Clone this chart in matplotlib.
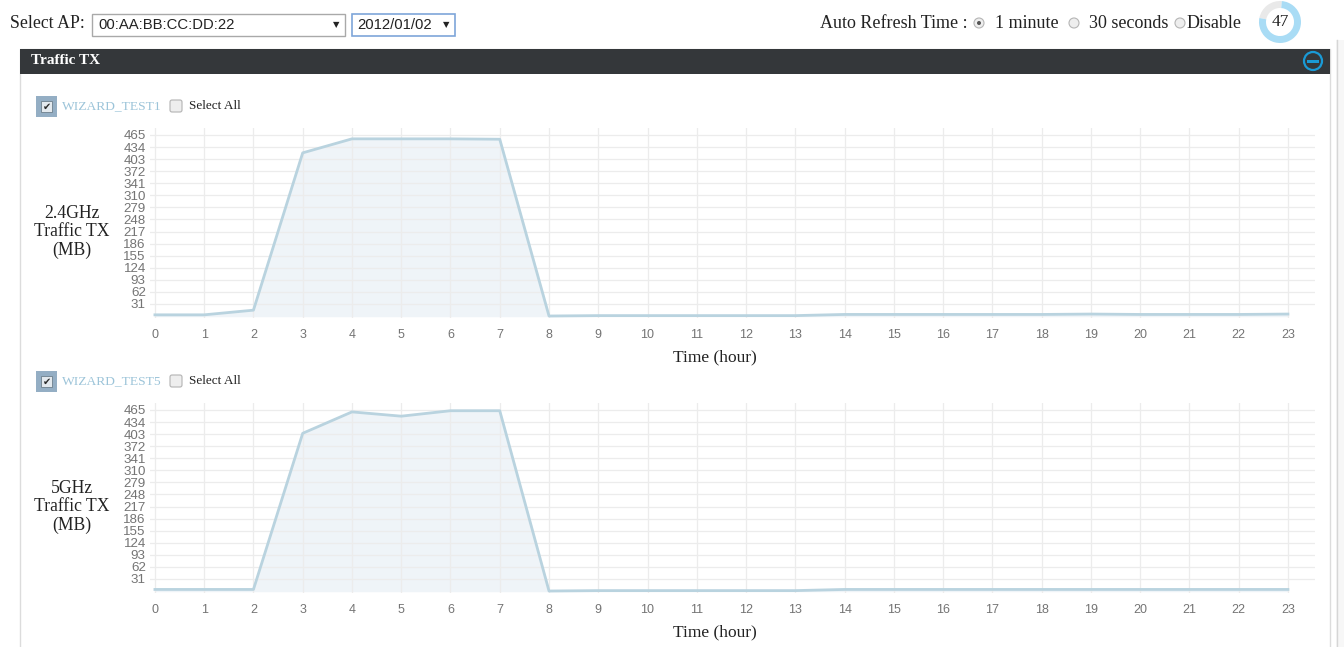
import numpy as np
import matplotlib
matplotlib.use("Agg")
import matplotlib.pyplot as plt
from matplotlib import font_manager
from matplotlib.patches import Rectangle, Circle, Wedge, FancyBboxPatch

# data (MB per hour)
hours = list(range(24))
tx_24g = [3, 3, 15, 419, 455, 455, 455, 454, 0, 1, 1, 1, 1, 1, 4, 4, 4, 4, 4, 5, 4, 4, 4, 5]
tx_5g = [4, 4, 4, 405, 460, 449, 463, 463, 0, 1, 1, 1, 1, 1, 4, 4, 4, 4, 4, 4, 4, 4, 4, 4]
ytick_vals = [31, 62, 93, 124, 155, 186, 217, 248, 279, 310, 341, 372, 403, 434, 465]
ylabels = ["2.4GHz\nTraffic TX\n(MB)", "5GHz\nTraffic TX\n(MB)"]
ssids = ["WIZARD_TEST1", "WIZARD_TEST5"]

W, H = 1344, 647
SERIF = "Liberation Serif"
SANS = "Liberation Sans"
names = {f.name for f in font_manager.fontManager.ttflist}
NARROW = "Liberation Sans Narrow" if "Liberation Sans Narrow" in names else SANS

LINE = "#b9d3df"
FILL = "#eff4f8"
GRID = "#ececec"
TICK = "#747474"
INK = "#222222"

fig = plt.figure(figsize=(W / 100, H / 100), dpi=100)
fig.patch.set_facecolor("white")


def px_axes(left, top, right, bottom):
    return fig.add_axes([left / W, 1 - bottom / H, (right - left) / W, (bottom - top) / H])


def chart(top, zero_y, values):
    # 0 MB sits at zero_y px, 31 MB = 12.07 px
    k = 12.07 / 31
    bottom = zero_y + 2
    ax = px_axes(150, top, 1315, bottom)
    ax.set_xlim(-0.1, 23.55)
    ax.set_ylim(-(bottom - zero_y) / k, (zero_y - top) / k)
    ax.fill_between(hours, values, 0, color=FILL, zorder=1)
    ax.plot(hours, values, color=LINE, lw=2, zorder=2)
    ax.set_xticks(hours)
    ax.set_yticks(ytick_vals)
    ax.grid(True, color=GRID, lw=0.9, zorder=0)
    for s in ax.spines.values():
        s.set_visible(False)
    ax.tick_params(length=0, colors=TICK)
    ax.tick_params(axis="x", pad=8, labelsize=9, labelfontfamily=SANS)
    ax.tick_params(axis="y", pad=3, labelsize=9.6, labelfontfamily=NARROW)
    ax.set_xlabel("Time (hour)", family=SERIF, fontsize=12.5, color=INK, va="center")
    # label is centred on the page column, not on the plot box
    ax.xaxis.set_label_coords((715 - 150) / 1165, -(39 / (bottom - top)))
    ax.set_facecolor("none")
    return ax


ax1 = chart(128, 316, tx_24g)
ax2 = chart(403, 591, tx_5g)

# page furniture drawn in pixel space
ui = fig.add_axes([0, 0, 1, 1], zorder=-1)
ui.set_xlim(0, W)
ui.set_ylim(H, 0)
ui.axis("off")

ui.text(10, 24, "Select AP:", family=SERIF, fontsize=12.8, va="center", color=INK)
ui.add_patch(Rectangle((92, 14), 253, 22, fc="white", ec="#a9a9a9", lw=1))
ui.text(98, 25, "00:AA:BB:CC:DD:22", family=SANS, fontsize=10.7, va="center", color=INK)
ui.text(336, 25, "▼", family="DejaVu Sans", fontsize=6, va="center", ha="center", color=INK)
ui.add_patch(Rectangle((352, 14), 103, 22, fc="white", ec="#7ea6d9", lw=1.2))
ui.text(357, 25, "2012/01/02", family=SANS, fontsize=10.7, va="center", color=INK)
ui.text(446, 25, "▼", family="DejaVu Sans", fontsize=6, va="center", ha="center", color=INK)

ui.text(820, 24, "Auto Refresh Time :", family=SERIF, fontsize=13, va="center", color=INK)
for x, tx, lab, on in [(979, 995, "1 minute", True), (1074, 1089, "30 seconds", False),
                       (1180, 1187, "Disable", False)]:
    ui.add_patch(Circle((x, 23), 5, fc="#eeeeee", ec="#b5b5b5", lw=0.8))
    if on:
        ui.add_patch(Circle((x, 23), 2, fc="#555555", ec="none"))
    ui.text(tx, 24, lab, family=SERIF, fontsize=13, va="center", color=INK)

# countdown donut (47 of 60 seconds left)
ui.add_patch(Wedge((1280, 22), 21, 191, 275, width=7, fc="#e9e9e9", ec="none"))
ui.add_patch(Wedge((1280, 22), 21, 275, 551, width=7, fc="#a9dcf5", ec="none"))
ui.text(1280, 22, "47", family=SERIF, fontsize=12.5, ha="center", va="center", color=INK)

# panel
ui.add_patch(Rectangle((20, 49), 1310, 620, fc="white", ec="#dcdcdc", lw=1))
ui.add_patch(Rectangle((20, 49), 1310, 25, fc="#34373a", ec="none"))
ui.text(31, 61, "Traffic TX", family=SERIF, fontsize=11, weight="bold", va="center", color="white")
ui.add_patch(Circle((1313, 61), 9, fc="none", ec="#1a9ad6", lw=1.6))
ui.add_patch(Rectangle((1307, 59.5), 12, 3.5, fc="#1a9ad6", ec="none"))

# scrollbar
ui.add_patch(Rectangle((1336, 40), 8, 607, fc="#f7f7f7", ec="none"))
ui.plot([1337, 1337], [40, 647], color="#d6d6d6", lw=1)

for (cy, name, lab, lab_y) in [(106, ssids[0], ylabels[0], 232), (381, ssids[1], ylabels[1], 507)]:
    ui.add_patch(Rectangle((36, cy - 10), 21, 21, fc="#94aec4", ec="none"))
    ui.add_patch(Rectangle((41, cy - 5), 11, 11, fc="#e3e9ee", ec="#6d7f8c", lw=0.6))
    ui.text(46.5, cy + 0.5, "✔", family="DejaVu Sans", fontsize=7, ha="center", va="center", color="#2b2b2b")
    ui.text(62, cy, name, family=SERIF, fontsize=9.7, va="center", color="#9cc4d9")
    ui.add_patch(FancyBboxPatch((170, cy - 6), 12, 12, boxstyle="round,pad=0,rounding_size=2",
                                fc="#eeeeee", ec="#b3b3b3", lw=0.8))
    ui.text(189, cy, "Select All", family=SERIF, fontsize=9.5, va="center", color=INK)
    ui.text(72, lab_y, lab, family=SERIF, fontsize=12.7, ha="center", va="center",
            color=INK, linespacing=1.08)

fig.savefig("out.png", dpi=100, facecolor="white")
